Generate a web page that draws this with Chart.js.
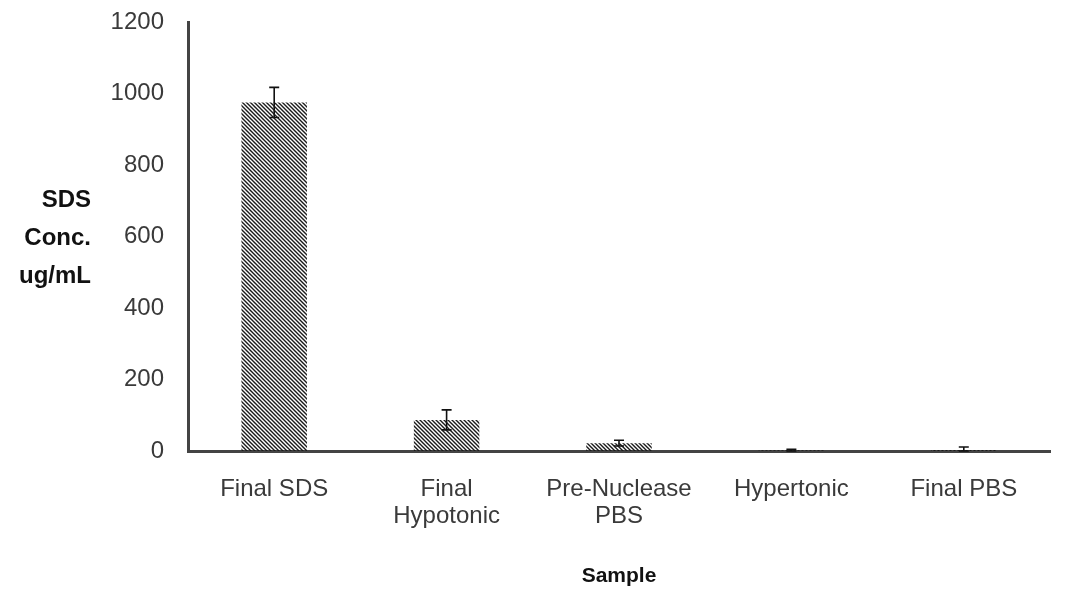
<!DOCTYPE html>
<html>
<head>
<meta charset="utf-8">
<script src="https://cdn.jsdelivr.net/npm/chart.js@4/dist/chart.umd.min.js"></script>
<style>
  html, body { margin: 0; padding: 0; background: #fff; }
  #wrap { width: 1068px; height: 593px; }
</style>
</head>
<body>
<div id="wrap"><canvas id="sdsChart" width="1068" height="593"></canvas></div>
<script>
// Chart data
const categories = [['Final SDS'], ['Final', 'Hypotonic'], ['Pre-Nuclease', 'PBS'], ['Hypertonic'], ['Final PBS']];
const sdsConc = [975, 87, 22, 2, 3];
const sdsError = [42, 28, 8, 3, 8];
const yTicks = [0, 200, 400, 600, 800, 1000, 1200];
const yTitle = ['SDS', 'Conc.', 'ug/mL'];
const xTitle = 'Sample';

// Diagonal hatch pattern for the bars
function makeHatch() {
    const c = document.createElement('canvas');
    c.width = 4;
    c.height = 4;
    const g = c.getContext('2d');
    g.strokeStyle = '#1a1a1a';
    g.lineWidth = 1.4;
    g.beginPath();
    g.moveTo(-1, -1); g.lineTo(5, 5);
    g.moveTo(3, -1); g.lineTo(5, 1);
    g.moveTo(-1, 3); g.lineTo(1, 5);
    g.stroke();
    return g.createPattern(c, 'repeat');
}

// Draws the error bars and the horizontal y-axis title
const extras = {
    id: 'extras',
    afterDatasetsDraw(chart) {
        const ctx = chart.ctx;
        const x = chart.scales.x, y = chart.scales.y;
        ctx.save();
        ctx.strokeStyle = '#111';
        ctx.lineWidth = 1.6;
        sdsConc.forEach((v, i) => {
            const px = x.getPixelForValue(i);
            const top = y.getPixelForValue(v + sdsError[i]);
            const bot = y.getPixelForValue(Math.max(0, v - sdsError[i]));
            ctx.beginPath();
            ctx.moveTo(px, top); ctx.lineTo(px, bot);
            ctx.moveTo(px - 5, top); ctx.lineTo(px + 5, top);
            ctx.moveTo(px - 5, bot); ctx.lineTo(px + 5, bot);
            ctx.stroke();
        });
        ctx.fillStyle = '#111';
        ctx.font = 'bold 24px "Liberation Sans", Arial, sans-serif';
        ctx.textAlign = 'right';
        ctx.textBaseline = 'middle';
        yTitle.forEach((t, i) => ctx.fillText(t, 91, 200 + i * 38));
        ctx.restore();
    }
};

const ctx = document.getElementById('sdsChart').getContext('2d');
const sdsChart = new Chart(ctx, {
    type: 'bar',
    data: {
        labels: categories,
        datasets: [{
            data: sdsConc,
            backgroundColor: makeHatch(),
            borderWidth: 0,
            barPercentage: 0.76,
            categoryPercentage: 0.5
        }]
    },
    options: {
        responsive: false,
        animation: false,
        layout: { padding: { top: 22, right: 18, left: 0, bottom: 0 } },
        plugins: { legend: { display: false }, tooltip: { enabled: false } },
        scales: {
            x: {
                grid: { display: false, drawTicks: false },
                border: { color: '#444', width: 3 },
                ticks: {
                    color: '#3a3a3a',
                    padding: 25,
                    maxRotation: 0,
                    font: { family: '"Liberation Sans", Arial, sans-serif', size: 24, lineHeight: 1.12 }
                },
                title: {
                    display: true,
                    text: xTitle,
                    color: '#111',
                    font: { family: '"Liberation Sans", Arial, sans-serif', size: 21, weight: 'bold' },
                    padding: { top: 14 }
                },
                afterFit(s) { s.height = 142; }
            },
            y: {
                min: 0,
                max: 1200,
                afterBuildTicks(s) { s.ticks = yTicks.map(v => ({ value: v })); },
                grid: { display: false, drawTicks: true, tickLength: 4, tickColor: '#999' },
                border: { color: '#444', width: 3 },
                ticks: {
                    color: '#3a3a3a',
                    padding: 20,
                    callback: v => String(v),
                    font: { family: '"Liberation Sans", Arial, sans-serif', size: 24 }
                },
                afterFit(s) { s.width = 188; s.paddingTop = 0; s.paddingBottom = 0; }
            }
        }
    },
    plugins: [extras]
});
</script>
</body>
</html>
